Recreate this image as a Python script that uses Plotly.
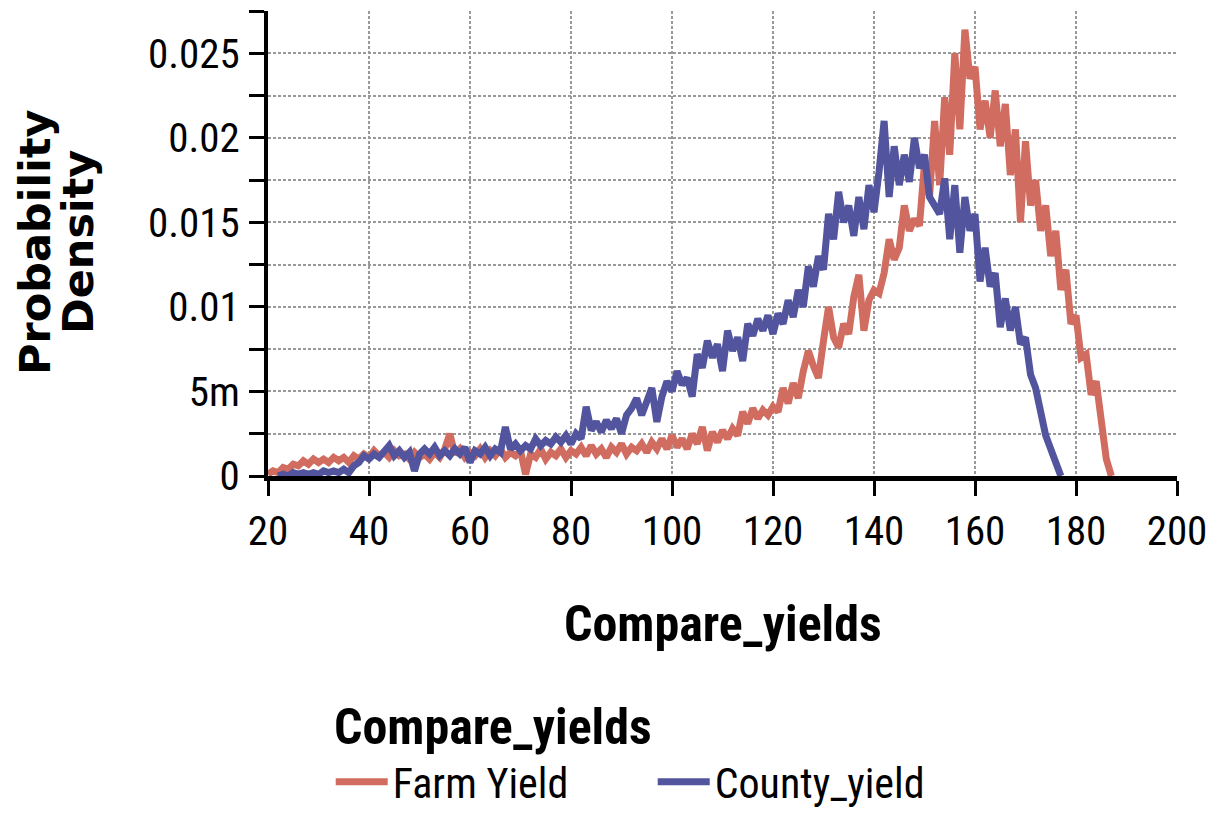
import plotly.graph_objects as go

# ---------------- data ----------------
farm_x = list(range(20, 188))
farm_y = [
    0.0001, 0.0003, 0.0002, 0.0005, 0.0004, 0.0007, 0.0006, 0.0009, 0.0007, 0.0010,  # 20-29
    0.0008, 0.0010, 0.0008, 0.0011, 0.0009, 0.0011, 0.0008, 0.0012, 0.0010, 0.0013,  # 30-39
    0.0011, 0.0015, 0.0012, 0.0014, 0.0011, 0.0015, 0.0012, 0.0013, 0.0010, 0.0014,  # 40-49
    0.0011, 0.0013, 0.0010, 0.0014, 0.0011, 0.0016, 0.0025, 0.0013, 0.0016, 0.0011,  # 50-59
    0.0014, 0.0012, 0.0016, 0.0011, 0.0015, 0.0012, 0.0016, 0.0011, 0.0014, 0.0012,  # 60-69
    0.0015, 0.0001, 0.0013, 0.0011, 0.0016, 0.0010, 0.0014, 0.0012, 0.0016, 0.0011,  # 70-79
    0.0015, 0.0013, 0.0017, 0.0012, 0.0018, 0.0013, 0.0016, 0.0011, 0.0017, 0.0014,  # 80-89
    0.0019, 0.0013, 0.0017, 0.0015, 0.0019, 0.0014, 0.0020, 0.0016, 0.0022, 0.0016,  # 90-99
    0.0024, 0.0017, 0.0022, 0.0016, 0.0025, 0.0019, 0.0029, 0.0015, 0.0026, 0.0020,  # 100-109
    0.0027, 0.0022, 0.0028, 0.0024, 0.0038, 0.0031, 0.0040, 0.0034, 0.0039, 0.0036,  # 110-119
    0.0041, 0.0038, 0.0052, 0.0043, 0.0055, 0.0046, 0.0062, 0.0074, 0.0065, 0.0058,  # 120-129
    0.0080, 0.0100, 0.0082, 0.0076, 0.0090, 0.0084, 0.0106, 0.0119, 0.0086, 0.0104,  # 130-139
    0.0110, 0.0108, 0.0120, 0.0140, 0.0128, 0.0135, 0.0160, 0.0145, 0.0152, 0.0148,  # 140-149
    0.0185, 0.0165, 0.0210, 0.0172, 0.0224, 0.0190, 0.0250, 0.0205, 0.0264, 0.0235,  # 150-159
    0.0242, 0.0205, 0.0222, 0.0200, 0.0228, 0.0195, 0.0220, 0.0178, 0.0205, 0.0150,  # 160-169
    0.0198, 0.0160, 0.0175, 0.0145, 0.0160, 0.0130, 0.0145, 0.0110, 0.0122, 0.0090,  # 170-179
    0.0095, 0.0070, 0.0072, 0.0048, 0.0056, 0.0030, 0.0010, 0.0000,                  # 180-187
]

county_x = list(range(22, 178))
county_y = [
    0.0000, 0.0001, 0.0000, 0.0002, 0.0001, 0.0002, 0.0001, 0.0002,                  # 22-29
    0.0001, 0.0003, 0.0002, 0.0003, 0.0002, 0.0004, 0.0002, 0.0006, 0.0008, 0.0012,  # 30-39
    0.0010, 0.0013, 0.0011, 0.0014, 0.0018, 0.0012, 0.0015, 0.0011, 0.0014, 0.0003,  # 40-49
    0.0013, 0.0016, 0.0013, 0.0017, 0.0012, 0.0015, 0.0012, 0.0016, 0.0013, 0.0017,  # 50-59
    0.0008, 0.0015, 0.0013, 0.0017, 0.0012, 0.0016, 0.0014, 0.0029, 0.0016, 0.0019,  # 60-69
    0.0015, 0.0018, 0.0016, 0.0022, 0.0018, 0.0021, 0.0019, 0.0023, 0.0020, 0.0024,  # 70-79
    0.0019, 0.0025, 0.0022, 0.0041, 0.0027, 0.0032, 0.0026, 0.0033, 0.0028, 0.0034,  # 80-89
    0.0025, 0.0036, 0.0040, 0.0046, 0.0036, 0.0044, 0.0052, 0.0032, 0.0047, 0.0056,  # 90-99
    0.0050, 0.0062, 0.0054, 0.0058, 0.0047, 0.0072, 0.0064, 0.0080, 0.0070, 0.0078,  # 100-109
    0.0062, 0.0086, 0.0074, 0.0082, 0.0068, 0.0090, 0.0083, 0.0093, 0.0086, 0.0095,  # 110-119
    0.0084, 0.0096, 0.0090, 0.0104, 0.0094, 0.0110, 0.0100, 0.0124, 0.0112, 0.0130,  # 120-129
    0.0122, 0.0155, 0.0140, 0.0168, 0.0150, 0.0160, 0.0142, 0.0165, 0.0146, 0.0172,  # 130-139
    0.0156, 0.0180, 0.0210, 0.0165, 0.0195, 0.0172, 0.0190, 0.0174, 0.0200, 0.0182,  # 140-149
    0.0190, 0.0165, 0.0160, 0.0155, 0.0176, 0.0140, 0.0172, 0.0132, 0.0165, 0.0145,  # 150-159
    0.0155, 0.0115, 0.0135, 0.0112, 0.0120, 0.0088, 0.0105, 0.0086, 0.0100, 0.0078,  # 160-169
    0.0082, 0.0060, 0.0052, 0.0036, 0.0024, 0.0016, 0.0008, 0.0000,                  # 170-177
]

series_names = ["Farm Yield", "County_yield"]
series_colors = ["#D16D60", "#52559E"]

x_ticks = [20, 40, 60, 80, 100, 120, 140, 160, 180, 200]
y_tick_vals = [0, 0.005, 0.01, 0.015, 0.02, 0.025]
y_tick_text = ["0", "5m", "0.01", "0.015", "0.02", "0.025"]

x_title = "Compare_yields"
y_title_lines = ["Probability", "Density"]
legend_title = "Compare_yields"

NARROW = "Liberation Sans Narrow, Arial Narrow, Roboto Condensed, Liberation Sans, Arial, sans-serif"

# page body has an 8px margin: the figure is made 8px smaller and margins shifted
PW, PH = 909, 465          # plot area size in pixels
X0, Y0 = 268, 476          # screen position of the plot's lower-left corner


def px(xs):
    return (xs - X0) / PW


def py(ys):
    return (Y0 - ys) / PH


# ---------------- figure ----------------
fig = go.Figure()
for xs, ys, name, col in [
    (farm_x, farm_y, series_names[0], series_colors[0]),
    (county_x, county_y, series_names[1], series_colors[1]),
]:
    fig.add_trace(go.Scatter(
        x=xs, y=ys, mode="lines", name=name,
        line=dict(color=col, width=7),
    ))

fig.update_layout(
    width=1209, height=808,
    margin=dict(l=260, r=40, t=3, b=340),
    paper_bgcolor="white", plot_bgcolor="white",
    font=dict(family=NARROW, size=40, color="black"),
    showlegend=True,
    legend=dict(
        orientation="h",
        x=0.069, xanchor="left",
        y=0, yanchor="bottom",
        yref="container",
        font=dict(family=NARROW, size=42, color="black"),
        entrywidth=255, entrywidthmode="pixels",
        itemwidth=52,
        borderwidth=0,
    ),
    xaxis=dict(
        range=[20, 200],
        tickmode="array", tickvals=x_ticks,
        ticks="outside", ticklen=15, tickwidth=3, tickcolor="black",
        showline=True, linecolor="black", linewidth=5,
        showgrid=True, gridcolor="#999999", gridwidth=2, griddash="3px,2px",
        zeroline=False,
        tickfont=dict(family=NARROW, size=41, color="black"),
        ticklabelstandoff=0,
    ),
    yaxis=dict(
        range=[0, 0.0275],
        tickmode="array", tickvals=y_tick_vals, ticktext=y_tick_text,
        ticks="outside", ticklen=15, tickwidth=3, tickcolor="black",
        showline=True, linecolor="black", linewidth=4,
        showgrid=True, gridcolor="#999999", gridwidth=2, griddash="3px,2px",
        zeroline=False,
        tickfont=dict(family=NARROW, size=41, color="black"),
        ticklabelstandoff=1,
        minor=dict(dtick=0.0025, tick0=0, ticks="outside", ticklen=15, tickwidth=3,
                   tickcolor="black", showgrid=True, gridcolor="#999999",
                   gridwidth=2, griddash="3px,2px"),
    ),
)

# axis titles and legend title as annotations for precise placement
fig.add_annotation(
    text=x_title, xref="paper", yref="paper", x=0.5, y=py(624),
    xanchor="center", yanchor="middle", showarrow=False,
    font=dict(family=NARROW, size=50, color="black", weight="bold"),
)
fig.add_annotation(
    text=legend_title, xref="paper", yref="paper", x=px(332), y=py(727),
    xanchor="left", yanchor="middle", showarrow=False,
    font=dict(family=NARROW, size=50, color="black", weight="bold"),
)
fig.add_annotation(
    text=y_title_lines[0], xref="paper", yref="paper",
    x=px(35), y=py(242),
    xanchor="center", yanchor="middle", textangle=-90, showarrow=False,
    font=dict(family="DejaVu Sans", size=43, color="black", weight="bold"),
)
fig.add_annotation(
    text=y_title_lines[1], xref="paper", yref="paper",
    x=px(78), y=py(242),
    xanchor="center", yanchor="middle", textangle=-90, showarrow=False,
    font=dict(family="DejaVu Sans", size=43, color="black", weight="bold"),
)

fig.write_html("out.html")
